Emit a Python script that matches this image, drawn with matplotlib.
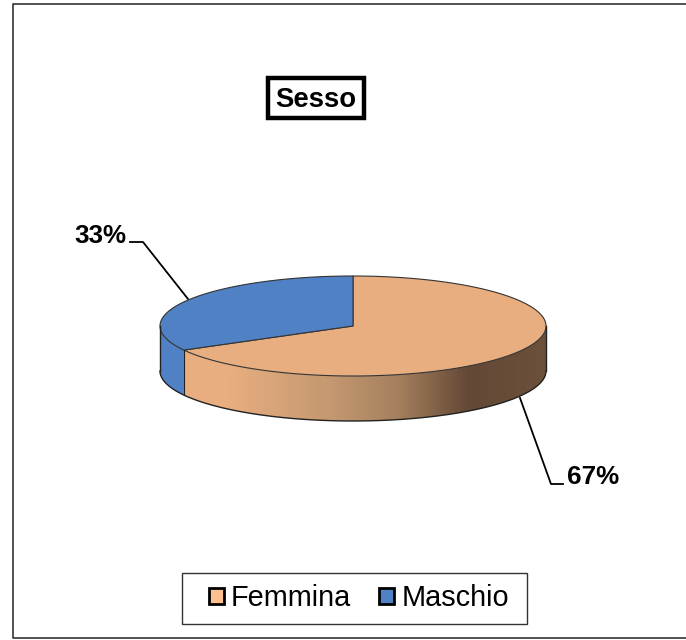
import numpy as np
import matplotlib
matplotlib.use("Agg")
import matplotlib.pyplot as plt
from matplotlib.colors import LinearSegmentedColormap
from matplotlib.patches import Polygon, Rectangle, Patch

plt.rcParams['font.family'] = ['Liberation Sans', 'DejaVu Sans']

categories = ["Femmina", "Maschio"]
values = [67, 33]
labels = ["67%", "33%"]

# ellipse of the pie, figure pixels
cx, cy = 353, 326
rx, ry = 193, 50
depth = 45


def arco(a, b, n=200):
    t = np.radians(np.linspace(a, b, n))
    return cx + rx * np.cos(t), cy - ry * np.sin(t)


fig = plt.figure(figsize=(6.86, 6.4), dpi=100)
ax = fig.add_axes([0, 0, 1, 1])
ax.set_xlim(0, 686)
ax.set_ylim(640, 0)
ax.axis("off")

# outer frame, it runs off the right edge of the picture
ax.plot([700, 12.5, 12.5, 700], [3.5, 3.5, 637.5, 637.5], color="#333333", lw=1.2)

# angles, clockwise from the top
fine = 90 - 360 * values[0] / sum(values)
inizio = fine + 360
ang_f = (90, fine)
ang_m = (inizio, 90)

# side wall, front half only
x_b, y_b = arco(180, 360)
x_lato = np.r_[x_b, x_b[::-1]]
y_lato = np.r_[y_b + depth, y_b[::-1]]
muro = Polygon(np.c_[x_lato, y_lato], closed=True, fc="none", ec="none")
ax.add_patch(muro)
cmap = LinearSegmentedColormap.from_list("lato", [
    (0.0, "#E8AE80"), (0.13, "#E8AE80"), (0.42, "#C39770"),
    (0.6, "#A47F5D"), (0.79, "#634836"), (1.0, "#6B503A")])
grad = np.linspace(0, 1, 400).reshape(1, -1)
im = ax.imshow(grad, extent=(180, 546, 430, 320), cmap=cmap, aspect="auto", zorder=2)
im.set_clip_path(muro)
ax.set_xlim(0, 686)
ax.set_ylim(640, 0)

# blue part of the wall
xm, ym = arco(180, fine + 360)
ax.fill(np.r_[xm, xm[::-1]], np.r_[ym + depth, ym[::-1]], fc="#4F81C4", ec="none", zorder=3)
ax.plot(np.r_[cx - rx, cx - rx], [cy, cy + depth], color="#222222", lw=1, zorder=5)
ax.plot(np.r_[cx + rx, cx + rx], [cy, cy + depth], color="#222222", lw=1, zorder=5)
ax.plot([xm[-1], xm[-1]], [ym[-1], ym[-1] + depth], color="#222222", lw=0.8, zorder=5)
ax.plot(x_b, y_b + depth, color="#222222", lw=1, zorder=5)

# top faces
xf, yf = arco(*ang_f)
ax.fill(np.r_[cx, xf], np.r_[cy, yf], fc="#E8AE80", ec="#333333", lw=0.8, zorder=4)
xt, yt = arco(*ang_m)
ax.fill(np.r_[cx, xt], np.r_[cy, yt], fc="#4F81C4", ec="#333333", lw=0.8, zorder=4)

# leader lines and percent labels
ax.plot([188, 143, 130], [299, 242, 242], color="black", lw=1.3, zorder=1)
ax.plot([520, 551, 563], [398, 484, 484], color="black", lw=1.3, zorder=1)
ax.text(100, 236, labels[1], ha="center", va="center", fontsize=18.7, fontweight="bold")
ax.text(593, 477, labels[0], ha="center", va="center", fontsize=18.7, fontweight="bold")

# title
ax.add_patch(Rectangle((267.5, 77.5), 96, 40, fc="white", ec="black", lw=3.2, zorder=3))
ax.text(316, 100, "Sesso", ha="center", va="center", fontsize=19.8, fontweight="bold", zorder=4)

# legend, the frame is drawn apart because its side margins differ
ax.add_patch(Rectangle((181.5, 572.5), 345, 51, fc="white", ec="#333333", lw=1, zorder=3))
handles = [Patch(fc="#FFC08F", ec="black", lw=2), Patch(fc="#4F81C4", ec="black", lw=2)]
leg = ax.legend(handles, categories, ncol=2, loc="center left",
                bbox_to_anchor=(209 / 686, 1 - 598 / 640), fontsize=20.8,
                frameon=False, handlelength=0.52, handleheight=0.5, handletextpad=0.24,
                columnspacing=0.97, borderpad=0, borderaxespad=0)
leg.set_zorder(4)

fig.savefig("out.png", dpi=100)
